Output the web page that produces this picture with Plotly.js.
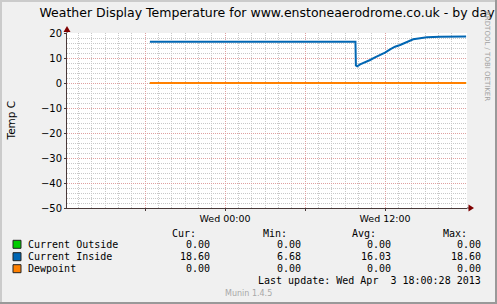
<!DOCTYPE html>
<html><head><meta charset="utf-8">
<script src="https://cdn.plot.ly/plotly-3.0.1.min.js"></script>
<style>html,body{margin:0;padding:0;background:#f0f0f0;} #chart{width:497px;height:304px;}</style>
</head><body><div id="chart"></div>
<script>
// ---- data ----
const titleText = 'Weather Display Temperature for www.enstoneaerodrome.co.uk - by day';
const yAxisTitle = 'Temp C';
const seriesNames = ['Current Outside', 'Current Inside', 'Dewpoint'];
const outsideTimes = ['2013-04-02 18:22', '2013-04-03 18:05'];
const outsideValues = [0, 0];
const insideTimes = ['2013-04-02 18:22', '2013-04-03 09:47', '2013-04-03 09:49', '2013-04-03 09:55',
  '2013-04-03 10:08', '2013-04-03 10:30', '2013-04-03 10:53', '2013-04-03 11:15', '2013-04-03 11:38',
  '2013-04-03 12:00', '2013-04-03 12:23', '2013-04-03 12:45', '2013-04-03 13:08', '2013-04-03 13:38',
  '2013-04-03 14:07', '2013-04-03 14:38', '2013-04-03 15:08', '2013-04-03 16:08', '2013-04-03 18:05'];
const insideValues = [16.5, 16.5, 7.0, 6.68, 7.47, 8.27, 9.2, 10.27, 11.2, 12.13, 13.47, 14.53, 15.2,
  16.4, 17.47, 17.87, 18.27, 18.53, 18.6];
const dewTimes = ['2013-04-02 18:22', '2013-04-03 18:05'];
const dewValues = [0, 0];
const statHeaders = ['Cur:', 'Min:', 'Avg:', 'Max:'];
const curVals = ['0.00', '18.60', '0.00'];
const minVals = ['0.00', '6.68', '0.00'];
const avgVals = ['0.00', '16.03', '0.00'];
const maxVals = ['0.00', '18.60', '0.00'];
const xRange = ['2013-04-02 12:09', '2013-04-03 18:09'];
const xTickVals = ['2013-04-02 18:00', '2013-04-03 00:00', '2013-04-03 06:00', '2013-04-03 12:00'];
const xTickText = ['', 'Wed 00:00', '', 'Wed 12:00'];
const yRange = [-50, 20];
const yTickVals = [-50, -40, -30, -20, -10, 0, 10, 20];
const lastUpdate = 'Last update: Wed Apr\u00a0 3 18:00:28 2013';
const footer = 'Munin 1.4.5';
const watermark = 'RRDTOOL / TOBI OETIKER';

// ---- geometry helpers ----
const W = 497, H = 304, L = 67, R = 30, T = 33, B = 96;
const PW = W - L - R, PH = H - T - B;
const px = x => (x - L) / PW;
const py = y => (T + PH - y) / PH;

const colors = ['#00cc00', '#0066b3', '#ff8000'];
const axisColor = '#4a3a3a';
const arrowColor = '#7f0000';

// hourly minor grid positions
const minorX = [];
for (let h = 13; h <= 41; h++) {
  const d = h < 24 ? '02' : '03';
  const hh = String(h % 24).padStart(2, '0');
  minorX.push('2013-04-' + d + ' ' + hh + ':00');
}

const traces = [
  {x: outsideTimes, y: outsideValues, name: seriesNames[0]},
  {x: insideTimes, y: insideValues, name: seriesNames[1]},
  {x: dewTimes, y: dewValues, name: seriesNames[2]}
].map((t, i) => Object.assign(t, {type: 'scatter', mode: 'lines', line: {color: colors[i], width: 2}, hoverinfo: 'skip'}));

const mono = {family: 'DejaVu Sans Mono', size: 10, color: '#000'};
const ann = [];
function txt(text, x, y, xanchor, font, extra) {
  ann.push(Object.assign({text, x: px(x), y: py(y), xref: 'paper', yref: 'paper', xanchor, yanchor: 'middle',
    showarrow: false, font}, extra || {}));
}
// y axis title
txt(yAxisTitle, 10, 120.5, 'center', {family: 'DejaVu Sans', size: 10.5, color: '#000'}, {textangle: -90});
// watermark
txt(watermark, 487, 56, 'center', {family: 'DejaVu Sans', size: 7, color: '#a0a0a0'}, {textangle: 90});
// legend table
const headerX = [198, 289, 378, 469];
const valX = [212, 303, 393, 483];
const rowY = [244.3, 256.7, 268.7];
statHeaders.forEach((h, i) => txt(h, headerX[i], 233, 'right', mono));
const cols = [curVals, minVals, avgVals, maxVals];
seriesNames.forEach((n, r) => {
  txt(n, 26, rowY[r], 'left', mono);
  cols.forEach((c, i) => txt(c[r], valX[i], rowY[r], 'right', mono));
});
txt(lastUpdate, 483, 280.7, 'right', mono);
txt(footer, 248, 293.3, 'center', {family: 'DejaVu Sans', size: 8, color: '#a8a8a8'});

const shapes = [];
function rect(x0, y0, x1, y1, fill, line) {
  shapes.push({type: 'rect', xref: 'paper', yref: 'paper', x0: px(x0), x1: px(x1), y0: py(y0), y1: py(y1),
    fillcolor: fill, line: line || {width: 0}, layer: 'above'});
}
// frame
rect(0, 0, 2, H, '#cbcbcb');
rect(0, 0, W, 2, '#cbcbcb');
rect(W - 2, 0, W, H, '#999999');
rect(0, H - 2, W, H, '#999999');
// legend squares
rowY.forEach((y, i) => rect(13, y - 4, 21, y + 4, colors[i], {width: 1, color: '#222'}));
// axis extensions and arrows
function path(pts, fill, line) {
  const d = pts.map((p, i) => (i ? 'L' : 'M') + px(p[0]) + ',' + py(p[1])).join(' ') + (fill ? ' Z' : '');
  shapes.push({type: 'path', xref: 'paper', yref: 'paper', path: d, fillcolor: fill || 'rgba(0,0,0,0)',
    line: line || {width: 0}, layer: 'above'});
}
path([[67, 33], [67, 30]], null, {width: 1, color: axisColor});
path([[467, 208], [470, 208]], null, {width: 1, color: axisColor});
path([[67, 26], [63.5, 32], [70.5, 32]], arrowColor);
path([[474, 208], [468.5, 204.5], [468.5, 211.5]], arrowColor);

const layout = {
  width: W, height: H,
  margin: {l: L, r: R, t: T, b: B, pad: 0},
  paper_bgcolor: '#f0f0f0', plot_bgcolor: '#ffffff',
  showlegend: false,
  title: {text: titleText, x: 0.5, xref: 'paper', xanchor: 'center', y: 1 - 13 / H, yref: 'container', yanchor: 'middle',
    font: {family: 'DejaVu Sans', size: 12.5, color: '#000'}},
  xaxis: {
    type: 'date', range: xRange, tickmode: 'array', tickvals: xTickVals, ticktext: xTickText,
    showgrid: true, gridcolor: '#e0a0a0', griddash: '1px,1px', gridwidth: 1,
    minor: {tickmode: 'array', tickvals: minorX, showgrid: true, gridcolor: '#c8c8c8', griddash: '1px,1px', gridwidth: 1},
    showline: true, linecolor: axisColor, linewidth: 1, zeroline: false,
    ticks: 'outside', ticklen: 2, tickcolor: axisColor,
    tickfont: {family: 'DejaVu Sans', size: 9.5, color: '#000'}, fixedrange: true
  },
  yaxis: {
    range: yRange, tickmode: 'array', tickvals: yTickVals,
    showgrid: true, gridcolor: '#e0a0a0', griddash: '1px,1px', gridwidth: 1,
    minor: {dtick: 2, tick0: 0, showgrid: true, gridcolor: '#c8c8c8', griddash: '1px,1px', gridwidth: 1},
    showline: true, linecolor: axisColor, linewidth: 1, zeroline: false,
    ticks: 'outside', ticklen: 2, tickcolor: axisColor,
    tickfont: {family: 'DejaVu Sans', size: 10, color: '#000'}, fixedrange: true
  },
  annotations: ann,
  shapes: shapes
};
Plotly.newPlot('chart', traces, layout, {displayModeBar: false, staticPlot: true});
</script>
</body></html>
